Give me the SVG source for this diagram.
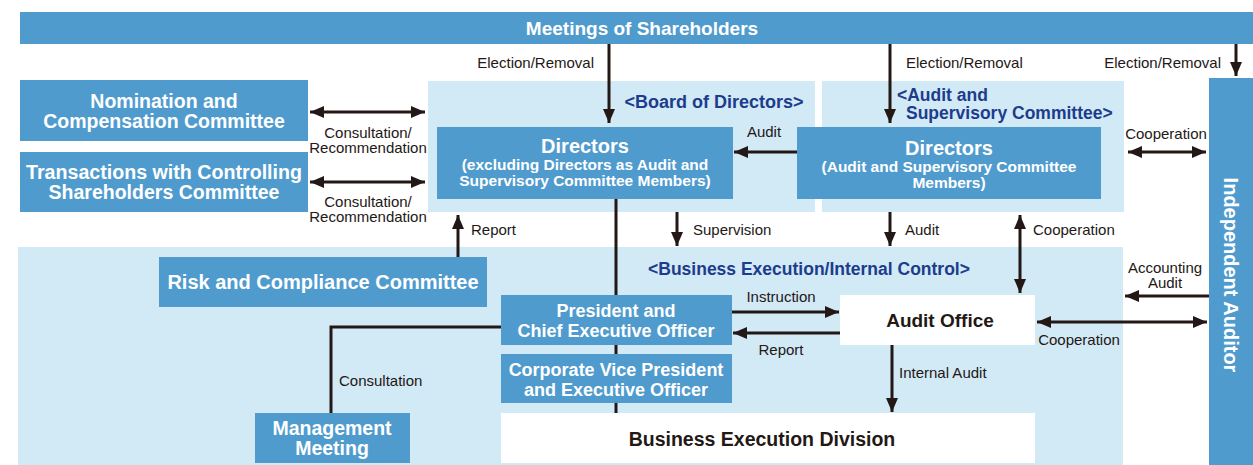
<svg xmlns="http://www.w3.org/2000/svg" width="1253" height="465" viewBox="0 0 1253 465">
<style>
.box{fill:#4f9bce}
.light{fill:#d2e9f6}
.white{fill:#ffffff}
.wt{font-family:"Liberation Sans",Arial,sans-serif;font-weight:bold;fill:#ffffff;text-anchor:middle}
.bt{font-family:"Liberation Sans",Arial,sans-serif;font-weight:bold;fill:#231815;text-anchor:middle}
.nv{font-family:"Liberation Sans",Arial,sans-serif;font-weight:bold;fill:#1d3c8c}
.lb{font-family:"Liberation Sans",Arial,sans-serif;fill:#231815;font-size:15px}
.c{text-anchor:middle}
.ln{stroke:#231815;stroke-width:3;fill:none}
</style>
<defs>
<marker id="ah" viewBox="0 0 14 12" refX="14" refY="6" markerWidth="14" markerHeight="12" markerUnits="userSpaceOnUse" orient="auto-start-reverse">
<path d="M0,0 L14,6 L0,12 z" fill="#231815"/>
</marker>
</defs>
<rect width="1253" height="465" fill="#ffffff"/>

<g id="board-of-directors">
<rect class="light" x="428" y="81" width="387" height="131"/>
<text class="nv" x="714" y="108" font-size="18" text-anchor="middle">&lt;Board of Directors&gt;</text>
</g>
<g id="audit-supervisory-committee">
<rect class="light" x="822" y="81" width="302" height="131"/>
<text class="nv" x="897" y="101" font-size="17.5">&lt;Audit and</text>
<text class="nv" x="906" y="119" font-size="17.5">Supervisory Committee&gt;</text>
</g>
<g id="business-execution-internal-control">
<rect class="light" x="18" y="247" width="1105" height="218"/>
<text class="nv" x="809" y="275" font-size="17.5" text-anchor="middle">&lt;Business Execution/Internal Control&gt;</text>
</g>

<g id="connectors">
<line class="ln" x1="616" y1="199" x2="616" y2="413"/>
<path class="ln" d="M501,327 H331 V413"/>
<line class="ln" x1="609" y1="44" x2="609" y2="123" marker-end="url(#ah)"/>
<line class="ln" x1="890" y1="44" x2="890" y2="123" marker-end="url(#ah)"/>
<line class="ln" x1="1236" y1="44" x2="1236" y2="76" marker-end="url(#ah)"/>
<line class="ln" x1="310" y1="112" x2="425" y2="112" marker-start="url(#ah)" marker-end="url(#ah)"/>
<line class="ln" x1="310" y1="182" x2="425" y2="182" marker-start="url(#ah)" marker-end="url(#ah)"/>
<line class="ln" x1="797" y1="152" x2="734" y2="152" marker-end="url(#ah)"/>
<line class="ln" x1="1128" y1="152" x2="1206" y2="152" marker-start="url(#ah)" marker-end="url(#ah)"/>
<line class="ln" x1="677" y1="212" x2="677" y2="246" marker-end="url(#ah)"/>
<line class="ln" x1="890" y1="212" x2="890" y2="246" marker-end="url(#ah)"/>
<line class="ln" x1="1020" y1="215" x2="1020" y2="293" marker-start="url(#ah)" marker-end="url(#ah)"/>
<line class="ln" x1="458" y1="257" x2="458" y2="215" marker-end="url(#ah)"/>
<line class="ln" x1="732" y1="312" x2="839" y2="312" marker-end="url(#ah)"/>
<line class="ln" x1="840" y1="333" x2="733" y2="333" marker-end="url(#ah)"/>
<line class="ln" x1="892" y1="345" x2="892" y2="412" marker-end="url(#ah)"/>
<line class="ln" x1="1209" y1="296" x2="1125" y2="296" marker-end="url(#ah)"/>
<line class="ln" x1="1037" y1="322" x2="1207" y2="322" marker-start="url(#ah)" marker-end="url(#ah)"/>
<text class="lb" x="594" y="68" text-anchor="end">Election/Removal</text>
<text class="lb" x="906" y="68">Election/Removal</text>
<text class="lb" x="1221" y="68" text-anchor="end">Election/Removal</text>
<text class="lb c" x="368" y="138">Consultation/</text>
<text class="lb c" x="368" y="153">Recommendation</text>
<text class="lb c" x="368" y="207">Consultation/</text>
<text class="lb c" x="368" y="222">Recommendation</text>
<text class="lb c" x="764" y="137">Audit</text>
<text class="lb c" x="1166" y="139">Cooperation</text>
<text class="lb" x="471" y="235">Report</text>
<text class="lb" x="693" y="235">Supervision</text>
<text class="lb" x="905" y="235">Audit</text>
<text class="lb" x="1033" y="235">Cooperation</text>
<text class="lb c" x="1165" y="273" font-size="14.5">Accounting</text>
<text class="lb c" x="1165" y="288" font-size="14.5">Audit</text>
<text class="lb c" x="781" y="302">Instruction</text>
<text class="lb c" x="781" y="355">Report</text>
<text class="lb c" x="1079" y="345">Cooperation</text>
<text class="lb" x="899" y="378">Internal Audit</text>
<text class="lb" x="339" y="386">Consultation</text>
</g>

<g id="meetings-of-shareholders">
<rect class="box" x="20" y="12" width="1233" height="32"/>
<text class="wt" x="642" y="35" font-size="19">Meetings of Shareholders</text>
</g>
<g id="nomination-compensation-committee">
<rect class="box" x="20" y="80" width="288" height="61"/>
<text class="wt" x="164" y="108" font-size="19.5">Nomination and</text>
<text class="wt" x="164" y="128" font-size="19.5">Compensation Committee</text>
</g>
<g id="transactions-committee">
<rect class="box" x="20" y="152" width="288" height="60"/>
<text class="wt" x="164" y="179" font-size="19.5" textLength="276" lengthAdjust="spacingAndGlyphs">Transactions with Controlling</text>
<text class="wt" x="164" y="199" font-size="19.5">Shareholders Committee</text>
</g>
<g id="directors">
<rect class="box" x="437" y="127" width="296" height="72"/>
<text class="wt" x="585" y="153" font-size="20">Directors</text>
<text class="wt" x="585" y="170" font-size="15.5">(excluding Directors as Audit and</text>
<text class="wt" x="585" y="186" font-size="15.5">Supervisory Committee Members)</text>
</g>
<g id="audit-directors">
<rect class="box" x="797" y="127" width="304" height="72"/>
<text class="wt" x="949" y="155" font-size="20">Directors</text>
<text class="wt" x="949" y="172" font-size="15.5">(Audit and Supervisory Committee</text>
<text class="wt" x="949" y="188" font-size="15.5">Members)</text>
</g>
<g id="independent-auditor">
<rect class="box" x="1209" y="78" width="44" height="387"/>
<text class="wt" font-size="20" transform="translate(1224,275) rotate(90)">Independent Auditor</text>
</g>
<g id="risk-compliance-committee">
<rect class="box" x="159" y="257" width="328" height="50"/>
<text class="wt" x="323" y="289" font-size="20">Risk and Compliance Committee</text>
</g>
<g id="president-ceo">
<rect class="box" x="501" y="295" width="231" height="50"/>
<text class="wt" x="616" y="317" font-size="18">President and</text>
<text class="wt" x="616" y="337" font-size="18">Chief Executive Officer</text>
</g>
<g id="vice-president">
<rect class="box" x="501" y="354" width="231" height="49"/>
<text class="wt" x="616" y="376" font-size="18">Corporate Vice President</text>
<text class="wt" x="616" y="396" font-size="18">and Executive Officer</text>
</g>
<g id="audit-office">
<rect class="white" x="840" y="295" width="195" height="50"/>
<text class="bt" x="940" y="327" font-size="19">Audit Office</text>
</g>
<g id="management-meeting">
<rect class="box" x="255" y="413" width="155" height="50"/>
<text class="wt" x="332" y="435" font-size="19.5">Management</text>
<text class="wt" x="332" y="455" font-size="19.5">Meeting</text>
</g>
<g id="business-execution-division">
<rect class="white" x="501" y="413" width="534" height="50"/>
<text class="bt" x="762" y="446" font-size="19.5">Business Execution Division</text>
</g>
</svg>
